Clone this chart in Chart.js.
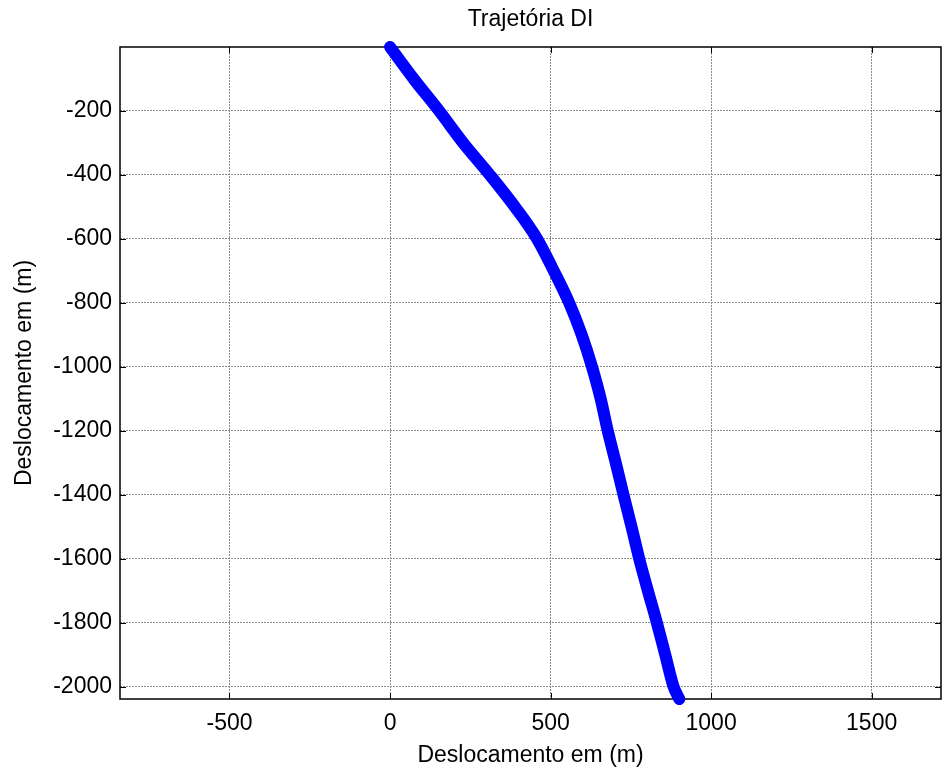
<!DOCTYPE html>
<html>
<head>
<meta charset="utf-8">
<title>Trajetória DI</title>
<script src="https://cdn.jsdelivr.net/npm/chart.js"></script>
<style>
  body { margin: 0; background: #fff; }
</style>
</head>
<body>
<canvas id="traj" width="944" height="774"></canvas>
<script>
// afastamento horizontal e profundidade do poço (m)
var afastamento = [0, 74, 153, 228, 311, 389, 458, 510, 558, 597, 629, 656, 678, 703, 727, 752, 776, 803, 831, 857, 883, 901];
var profundidade = [0, -100, -200, -300, -400, -500, -600, -700, -800, -900, -1000, -1100, -1200, -1300, -1400, -1500, -1600, -1700, -1800, -1900, -2000, -2039];

var xTicks = [-500, 0, 500, 1000, 1500];
var yTicks = [-200, -400, -600, -800, -1000, -1200, -1400, -1600, -1800, -2000];
var xLimites = [-841, 1716];
var yLimites = [-2039, 0];

var fonte = { family: "'Liberation Sans', Arial, sans-serif", size: 23 };

// caixa preta em volta do gráfico com marcas de escala para dentro
var moldura = {
  id: 'moldura',
  beforeDatasetsDraw: function(chart) {
    var ctx = chart.ctx;
    var a = chart.chartArea;
    var sx = chart.scales.x;
    var sy = chart.scales.y;
    ctx.save();
    ctx.strokeStyle = '#000';
    ctx.lineWidth = 1;
    ctx.beginPath();
    xTicks.forEach(function(v) {
      var p = Math.round(sx.getPixelForValue(v)) + 0.5;
      ctx.moveTo(p, a.bottom); ctx.lineTo(p, a.bottom - 6);
      ctx.moveTo(p, a.top); ctx.lineTo(p, a.top + 6);
    });
    yTicks.forEach(function(v) {
      var p = Math.round(sy.getPixelForValue(v)) + 0.5;
      ctx.moveTo(a.left, p); ctx.lineTo(a.left + 6, p);
      ctx.moveTo(a.right, p); ctx.lineTo(a.right - 6, p);
    });
    ctx.stroke();
    ctx.lineWidth = 1.5;
    ctx.strokeRect(a.left, a.top, a.right - a.left, a.bottom - a.top);
    ctx.restore();
  }
};

var pontos = afastamento.map(function(x, i) {
  return { x: x, y: profundidade[i] };
});

new Chart('traj', {
  type: 'line',
  data: {
    datasets: [{
      data: pontos,
      borderColor: '#0000ff',
      backgroundColor: '#0000ff',
      borderWidth: 12,
      borderCapStyle: 'round',
      borderJoinStyle: 'round',
      cubicInterpolationMode: 'monotone',
      pointRadius: 0,
      fill: false,
      clip: false
    }]
  },
  options: {
    responsive: false,
    animation: false,
    devicePixelRatio: 1,
    layout: { padding: { left: 0, right: 3, top: 0, bottom: 0 } },
    plugins: {
      legend: { display: false },
      tooltip: { enabled: false }
    },
    scales: {
      x: {
        type: 'linear',
        min: xLimites[0],
        max: xLimites[1],
        afterBuildTicks: function(scale) {
          scale.ticks = xTicks.map(function(v) { return { value: v }; });
        },
        afterFit: function(scale) { scale.height = 75; },
        ticks: {
          color: '#000',
          font: fonte,
          padding: 11,
          maxRotation: 0,
          autoSkip: false,
          callback: function(v) { return String(v); }
        },
        grid: { color: '#8c8c8c', lineWidth: 1, drawTicks: false },
        border: { display: false, dash: [2, 1] },
        title: {
          display: true,
          text: 'Deslocamento em (m)',
          color: '#000',
          font: fonte,
          padding: { top: 0, bottom: 5 }
        }
      },
      // eixo superior só para centrar o título sobre a área do gráfico
      topo: {
        type: 'linear',
        position: 'top',
        axis: 'x',
        min: xLimites[0],
        max: xLimites[1],
        afterBuildTicks: function(scale) { scale.ticks = []; },
        afterFit: function(scale) { scale.height = 47; },
        ticks: { display: false },
        grid: { display: false, drawTicks: false },
        border: { display: false },
        title: {
          display: true,
          text: 'Trajetória DI',
          color: '#000',
          font: fonte,
          padding: { top: 6, bottom: 0 }
        }
      },
      y: {
        type: 'linear',
        min: yLimites[0],
        max: yLimites[1],
        afterBuildTicks: function(scale) {
          scale.ticks = yTicks.map(function(v) { return { value: v }; });
        },
        afterFit: function(scale) { scale.width = 120; },
        ticks: {
          color: '#000',
          font: fonte,
          padding: 8,
          autoSkip: false,
          callback: function(v) { return String(v); }
        },
        grid: { color: '#8c8c8c', lineWidth: 1, drawTicks: false },
        border: { display: false, dash: [2, 1] },
        title: {
          display: true,
          text: 'Deslocamento em (m)',
          color: '#000',
          font: fonte,
          padding: { top: 11, bottom: 0 }
        }
      }
    }
  },
  plugins: [moldura]
});
</script>
</body>
</html>
